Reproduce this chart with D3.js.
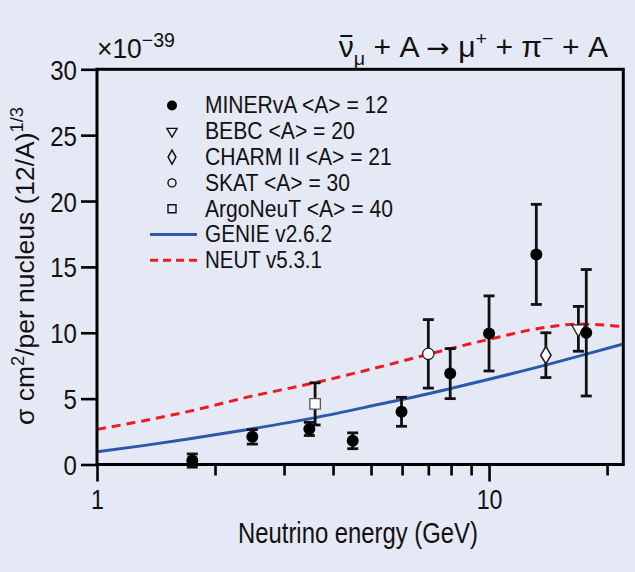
<!DOCTYPE html>
<html><head><meta charset="utf-8">
<script src="https://cdn.jsdelivr.net/npm/d3@7"></script>
<style>
html,body{margin:0;padding:0;background:#e5e8f5;}
svg{display:block;}
text{font-family:"Liberation Sans",Arial,sans-serif;fill:#111;}
</style></head><body>
<svg id="c" width="635" height="572"></svg>
<script>
// ---- data ----
const minervaE   = [1.75, 2.49, 3.48, 4.49, 5.98, 7.96, 10.0, 13.2, 17.7];
const minervaY   = [0.3, 2.1, 2.7, 1.8, 4.0, 6.9, 9.95, 15.95, 10.0];
const minervaErr = [0.5, 0.55, 0.5, 0.6, 1.1, 1.9, 2.85, 3.8, 4.8];
const bebcE = [16.9], bebcY = [10.3], bebcErr = [1.7];
const charmE = [13.96], charmY = [8.3], charmErr = [1.7];
const skatE = [7.0], skatY = [8.4], skatErr = [2.6];
const argoE = [3.6], argoY = [4.6], argoErr = [1.6];
const genieE = [1, 1.34, 1.725, 2.45, 3.55, 5.25, 7, 8, 10, 14, 17.7, 22];
const genieY = [0.96, 1.47, 1.95, 2.68, 3.52, 4.57, 5.37, 5.78, 6.47, 7.56, 8.38, 9.15];
const neutE = [1, 1.725, 2.45, 3.55, 5.25, 7, 10, 14, 17, 20, 22];
const neutY = [2.66, 4.05, 5.15, 6.17, 7.4, 8.37, 9.5, 10.42, 10.66, 10.58, 10.45];
const yTicks = [0, 5, 10, 15, 20, 25, 30];
const xMajor = [1, 10];
const xMinor = [2, 3, 4, 5, 6, 7, 8, 9, 20];
const legendLabels = ["MINERvA <A> = 12", "BEBC <A> = 20", "CHARM II <A> = 21", "SKAT <A> = 30", "ArgoNeuT <A> = 40", "GENIE v2.6.2", "NEUT v5.3.1"];
const legendWidths = [183, 150, 187, 145, 188, 127, 117];

// ---- layout ----
const L = 97, R = 623.3, T = 69.3, B = 464.5;
const x = d3.scaleLog().domain([1, 22]).range([L, R]);
const y = d3.scaleLinear().domain([0, 30]).range([B, T]);
const svg = d3.select("#c");
svg.append("rect").attr("width", 635).attr("height", 572).attr("fill", "#e5e8f5");

const blue = "#2a5aa8", red = "#ec1c24";

// horizontal condensing helper (reference uses a condensed face)
function squeeze(sel, ax, sx, pre) {
  sel.attr("transform", `${pre || ""} translate(${ax},0) scale(${sx},1) translate(${-ax},0)`);
}
function fitTo(sel, ax, target, pre) {
  const w = sel.node().getBBox().width;
  squeeze(sel, ax, target / w, pre);
}

// curves
const line = d3.line().curve(d3.curveMonotoneX);
svg.append("path").attr("d", line(genieE.map((e, i) => [x(e), y(genieY[i])])))
  .attr("fill", "none").attr("stroke", blue).attr("stroke-width", 3);
svg.append("path").attr("d", line(neutE.map((e, i) => [x(e), y(neutY[i])])))
  .attr("fill", "none").attr("stroke", red).attr("stroke-width", 3).attr("stroke-dasharray", "9,6");

// error bars
function errBars(E, V, Er) {
  const g = svg.append("g").attr("stroke", "#111").attr("stroke-width", 2.8);
  E.forEach((e, i) => {
    const cx = x(e), y1 = y(V[i] + Er[i]), y2 = y(V[i] - Er[i]);
    g.append("line").attr("x1", cx).attr("x2", cx).attr("y1", y1).attr("y2", y2);
    g.append("line").attr("x1", cx - 5.5).attr("x2", cx + 5.5).attr("y1", y1).attr("y2", y1);
    g.append("line").attr("x1", cx - 5.5).attr("x2", cx + 5.5).attr("y1", y2).attr("y2", y2);
  });
}
errBars(argoE, argoY, argoErr);
errBars(skatE, skatY, skatErr);
errBars(charmE, charmY, charmErr);
errBars(bebcE, bebcY, bebcErr);
errBars(minervaE, minervaY, minervaErr);

// markers
const sym = {
  circle: d3.symbol().type(d3.symbolCircle),
  tri: d3.symbol().type(d3.symbolTriangle),
  diamond: d3.symbol().type(d3.symbolDiamond),
  square: d3.symbol().type(d3.symbolSquare)
};
function openMarks(E, V, kind, size, stroke, extra) {
  E.forEach((e, i) => {
    svg.append("path").attr("d", sym[kind].size(size)())
      .attr("transform", `translate(${x(e)},${y(V[i])})${extra || ""}`)
      .attr("fill", "#fff").attr("stroke", stroke).attr("stroke-width", 1.3);
  });
}
openMarks(argoE, argoY, "square", 110, "#555");
openMarks(skatE, skatY, "circle", 100, "#222");
openMarks(charmE, charmY, "diamond", 60, "#222", " scale(1.25,1.2)");
openMarks(bebcE, bebcY, "tri", 80, "#222", " rotate(180)");
minervaE.forEach((e, i) => {
  svg.append("circle").attr("cx", x(e)).attr("cy", y(minervaY[i])).attr("r", 6).attr("fill", "#000");
});

// frame
svg.append("rect").attr("x", L).attr("y", T).attr("width", R - L).attr("height", B - T)
  .attr("fill", "none").attr("stroke", "#000").attr("stroke-width", 3);

// y axis
const yAx = svg.append("g").attr("transform", `translate(${L},0)`)
  .call(d3.axisLeft(y).tickValues(yTicks).tickSize(16).tickPadding(4).tickFormat(d3.format("d")));
yAx.select(".domain").remove();
yAx.selectAll(".tick line").attr("stroke", "#000").attr("stroke-width", 2.6);
yAx.selectAll(".tick text").attr("font-size", 28).attr("font-family", null).attr("fill", "#111").attr("dy", "0.36em")
  .each(function () { squeeze(d3.select(this), +this.getAttribute("x"), 0.86); });

// x axis
const xAx = svg.append("g").attr("transform", `translate(0,${B})`)
  .call(d3.axisBottom(x).tickValues(xMajor).tickSize(17).tickPadding(8).tickFormat(d3.format("d")));
xAx.select(".domain").remove();
xAx.selectAll(".tick line").attr("stroke", "#000").attr("stroke-width", 2.6);
xAx.selectAll(".tick text").attr("font-size", 27).attr("font-family", null).attr("fill", "#111")
  .each(function () { squeeze(d3.select(this), 0, 0.86); });
const xAx2 = svg.append("g").attr("transform", `translate(0,${B})`)
  .call(d3.axisBottom(x).tickValues(xMinor).tickSize(11).tickFormat(""));
xAx2.select(".domain").remove();
xAx2.selectAll(".tick line").attr("stroke", "#000").attr("stroke-width", 2.6);

// axis titles
const xt = svg.append("text").attr("x", 358).attr("y", 543).attr("text-anchor", "middle")
  .attr("font-size", 29).text("Neutrino energy (GeV)");
fitTo(xt, 358, 240);

const yl = svg.append("text").attr("x", 0).attr("y", 0)
  .attr("text-anchor", "middle").attr("font-size", 26);
yl.append("tspan").text("σ cm");
yl.append("tspan").attr("font-size", 18).attr("dy", -10).text("2");
yl.append("tspan").attr("dy", 10).text("/per nucleus (12/A)");
yl.append("tspan").attr("font-size", 18).attr("dy", -11).text("1/3");
{
  const w = yl.node().getBBox().width;
  yl.attr("transform", `translate(34,266) rotate(-90) scale(${318 / w},1)`);
}

// exponent
const ex = svg.append("text").attr("x", 97).attr("y", 58).attr("font-size", 27);
ex.append("tspan").text("×10");
ex.append("tspan").attr("font-size", 20).attr("dy", -11).text("−39");
fitTo(ex, 97, 78);

// reaction title
const tt = svg.append("text").attr("x", 608).attr("y", 57).attr("text-anchor", "end").attr("font-size", 29);
tt.append("tspan").text("ν");
tt.append("tspan").attr("font-size", 19).attr("dy", 8).text("μ");
tt.append("tspan").attr("dy", -8).text(" + A ");
tt.append("tspan").attr("font-family", "DejaVu Sans").attr("font-size", 27).text("→");
tt.append("tspan").text(" μ");
tt.append("tspan").attr("font-size", 19).attr("dy", -12).text("+");
tt.append("tspan").attr("dy", 12).text(" + π");
tt.append("tspan").attr("font-size", 19).attr("dy", -12).text("−");
tt.append("tspan").attr("dy", 12).text(" + A");
fitTo(tt, 608, 270);
{
  const nb = tt.node().getExtentOfChar(0);
  const m = tt.node().getCTM();
  const xa = m.a * nb.x + m.e, xb = m.a * (nb.x + nb.width) + m.e;
  svg.append("line").attr("x1", xa + 1.5).attr("x2", xb - 1.5)
    .attr("y1", 36).attr("y2", 36).attr("stroke", "#111").attr("stroke-width", 2);
}

// legend
const lx = 172, tx = 205, ly0 = 105.5, dy = 25.8;
const lg = svg.append("g");
lg.append("circle").attr("cx", lx).attr("cy", ly0).attr("r", 5).attr("fill", "#000");
lg.append("path").attr("d", sym.tri.size(45)()).attr("transform", `translate(${lx},${ly0 + dy}) rotate(180)`)
  .attr("fill", "none").attr("stroke", "#111").attr("stroke-width", 1.4);
lg.append("path").attr("d", sym.diamond.size(40)()).attr("transform", `translate(${lx},${ly0 + 2 * dy}) scale(1.15,1.2)`)
  .attr("fill", "none").attr("stroke", "#111").attr("stroke-width", 1.3);
lg.append("circle").attr("cx", lx).attr("cy", ly0 + 3 * dy).attr("r", 4).attr("fill", "none").attr("stroke", "#111").attr("stroke-width", 1.4);
lg.append("path").attr("d", sym.square.size(64)()).attr("transform", `translate(${lx},${ly0 + 4 * dy})`)
  .attr("fill", "none").attr("stroke", "#111").attr("stroke-width", 1.4);
lg.append("line").attr("x1", 150).attr("x2", 197).attr("y1", ly0 + 5 * dy).attr("y2", ly0 + 5 * dy)
  .attr("stroke", blue).attr("stroke-width", 3);
lg.append("line").attr("x1", 150).attr("x2", 197).attr("y1", ly0 + 6 * dy).attr("y2", ly0 + 6 * dy)
  .attr("stroke", red).attr("stroke-width", 3).attr("stroke-dasharray", "8,5");
legendLabels.forEach((t, i) => {
  const tEl = lg.append("text").attr("x", tx).attr("y", ly0 + i * dy + 8).attr("font-size", 23).text(t);
  fitTo(tEl, tx, legendWidths[i]);
});
</script></body></html>
